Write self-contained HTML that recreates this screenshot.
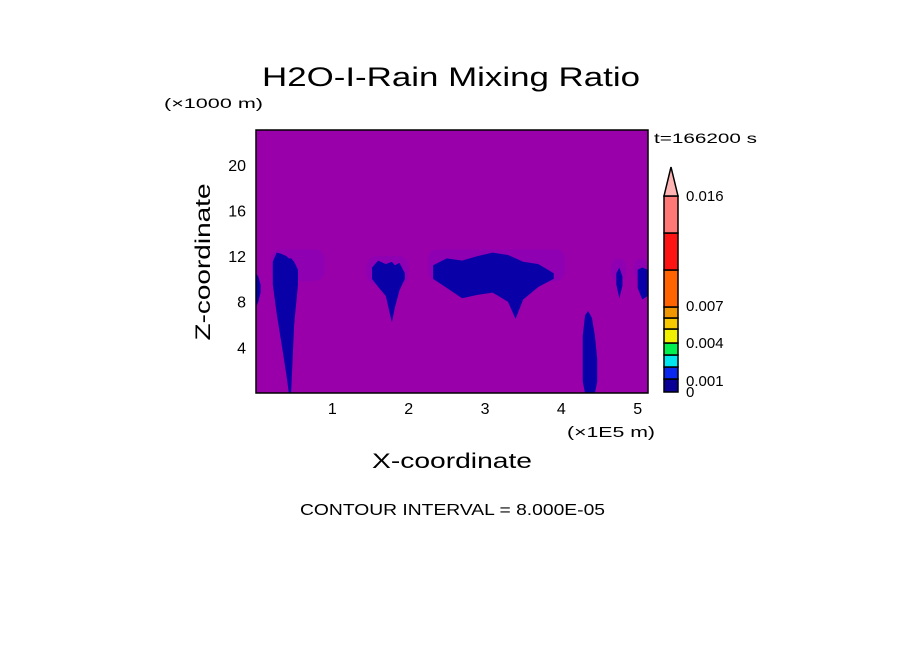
<!DOCTYPE html>
<html><head><meta charset="utf-8"><style>
body{margin:0;background:#fff;}
svg{display:block;font-family:"Liberation Sans","DejaVu Sans",sans-serif;}
</style></head><body>
<svg id="chart" width="904" height="654" viewBox="0 0 904 654">
<text x="262" y="86" font-size="27" textLength="378" lengthAdjust="spacingAndGlyphs">H2O-I-Rain Mixing Ratio</text>
<text x="164" y="108" font-size="14" textLength="99" lengthAdjust="spacingAndGlyphs">(×1000 m)</text>
<text x="654" y="143" font-size="14" textLength="103" lengthAdjust="spacingAndGlyphs">t=166200 s</text>
<rect x="256" y="130" width="392" height="263" fill="#9900aa"/>
<g id="halo"></g>
<g id="marks"></g>
<rect x="256" y="130" width="392" height="263" fill="none" stroke="#000" stroke-width="1.5"/>
<g id="xticks"></g>
<g id="yticks"></g>
<text x="567" y="437" font-size="15" textLength="88" lengthAdjust="spacingAndGlyphs">(×1E5 m)</text>
<text x="372" y="468" font-size="21" textLength="160" lengthAdjust="spacingAndGlyphs">X-coordinate</text>
<text x="210" y="262" font-size="21" text-anchor="middle" textLength="157" lengthAdjust="spacingAndGlyphs" transform="rotate(-90 210 262)">Z-coordinate</text>
<text x="300" y="515" font-size="16" textLength="305" lengthAdjust="spacingAndGlyphs">CONTOUR INTERVAL = 8.000E-05</text>
<g id="cbar"></g>
</svg>
<script>
const xTicks=[1,2,3,4,5];
const zTicks=[4,8,12,16,20];
const feat1X=[0,0.03,0.06], feat1Top=[10.5,10.2,9.5], feat1Bot=[7.5,8,8.8];
const feat2X=[0.22,0.27,0.33,0.4,0.43,0.46,0.5,0.55], feat2Top=[11.5,12.3,12.2,12,11.8,11.8,11.5,10.8], feat2Bot=[9.5,7,4.5,1.5,0,0,6,9.5];
const feat3X=[1.52,1.6,1.7,1.78,1.82,1.88,1.95], feat3Top=[11,11.6,11.3,11.5,11.2,11.4,10.5], feat3Bot=[10,9.3,8.5,6.2,7.5,9,10];
const feat4X=[2.32,2.5,2.7,2.9,3.1,3.3,3.4,3.5,3.7,3.9], feat4Top=[11.2,11.8,11.6,12,12.3,12.1,11.8,11.5,11.3,10.5], feat4Bot=[10,9.2,8.3,8.6,8.8,8,6.5,8.2,9.3,10];
const feat5X=[4.28,4.31,4.35,4.4,4.44,4.47], feat5Top=[5,6.8,7.2,6.6,5,3], feat5Bot=[1,0,0,0,0,1];
const feat6X=[4.72,4.76,4.8], feat6Top=[10.5,11,10.2], feat6Bot=[9.5,8.3,9.4];
const feat7X=[5.0,5.06,5.13], feat7Top=[10.8,11,10.8], feat7Bot=[9.2,8.2,8.5];
const haloX=[[0.2,0.9],[1.45,2.0],[2.25,4.05],[4.65,4.85],[4.95,5.13]];
const haloTop=[12.6,12,12.6,11.8,11.8], haloBot=[9.8,9.5,9.8,9.8,9.8];
const cbLevels=["0","0.001","0.004","0.007","0.016"];
const cbColors=["#0a0096","#0a28f0","#00e6f0","#00f050","#f0f000","#f8c800","#f09600","#ff6400","#ff1414","#ff7878"];
const cbEdges=[392,379,367,355,343,329,318,307,270,233,196];
const NS="http://www.w3.org/2000/svg";
const X0=256,X1=648,XMAX=5.135,Y0=393,Y1=130,ZMAX=23.05;
const sx=v=>X0+v/XMAX*(X1-X0), sz=v=>Y0-v/ZMAX*(Y0-Y1);
function el(t,a,p){const e=document.createElementNS(NS,t);for(const k in a)e.setAttribute(k,a[k]);p.appendChild(e);return e;}
const halo=document.getElementById('halo');
haloX.forEach((r,i)=>{
 const e=el('rect',{x:sx(r[0]),y:sz(haloTop[i]),width:sx(r[1])-sx(r[0]),height:sz(haloBot[i])-sz(haloTop[i]),fill:"#8f00b2",rx:10},halo);
 
 
});
const marks=document.getElementById('marks');
[[feat1X,feat1Top,feat1Bot],[feat2X,feat2Top,feat2Bot],[feat3X,feat3Top,feat3Bot],[feat4X,feat4Top,feat4Bot],[feat5X,feat5Top,feat5Bot],[feat6X,feat6Top,feat6Bot],[feat7X,feat7Top,feat7Bot]].forEach((f,i)=>{
 const [xs,t,b]=f;let pts=[];
 xs.forEach((x,j)=>pts.push(sx(x)+","+sz(t[j])));
 for(let j=xs.length-1;j>=0;j--)pts.push(sx(xs[j])+","+sz(b[j]));
 const p=el('polygon',{points:pts.join(' '),fill:"#0a00a8"},marks);
 
 
});
const xt=document.getElementById('xticks');
xTicks.forEach(v=>{const t=el('text',{x:sx(v),y:414,'font-size':16,'text-anchor':'middle'},xt);t.textContent=v;
 
 });
const yt=document.getElementById('yticks');
zTicks.forEach(v=>{const t=el('text',{x:246,y:sz(v)+6,'font-size':16,'text-anchor':'end'},yt);t.textContent=v;
 
 });
const cb=document.getElementById('cbar');
cbColors.forEach((c,i)=>{const r=el('rect',{x:664,y:cbEdges[i+1],width:14,height:cbEdges[i]-cbEdges[i+1],fill:c,stroke:"#000","stroke-width":1.5},cb);
 
 });
const tri=el('polygon',{points:"664,196 678,196 671,167",fill:"#ffb4b4",stroke:"#000","stroke-width":1.5},cb);


const cbY=[397,386,348,311,201];
cbLevels.forEach((l,i)=>{const t=el('text',{x:686,y:cbY[i],'font-size':15},cb);t.textContent=l;
 
 });
</script>
</body></html>
